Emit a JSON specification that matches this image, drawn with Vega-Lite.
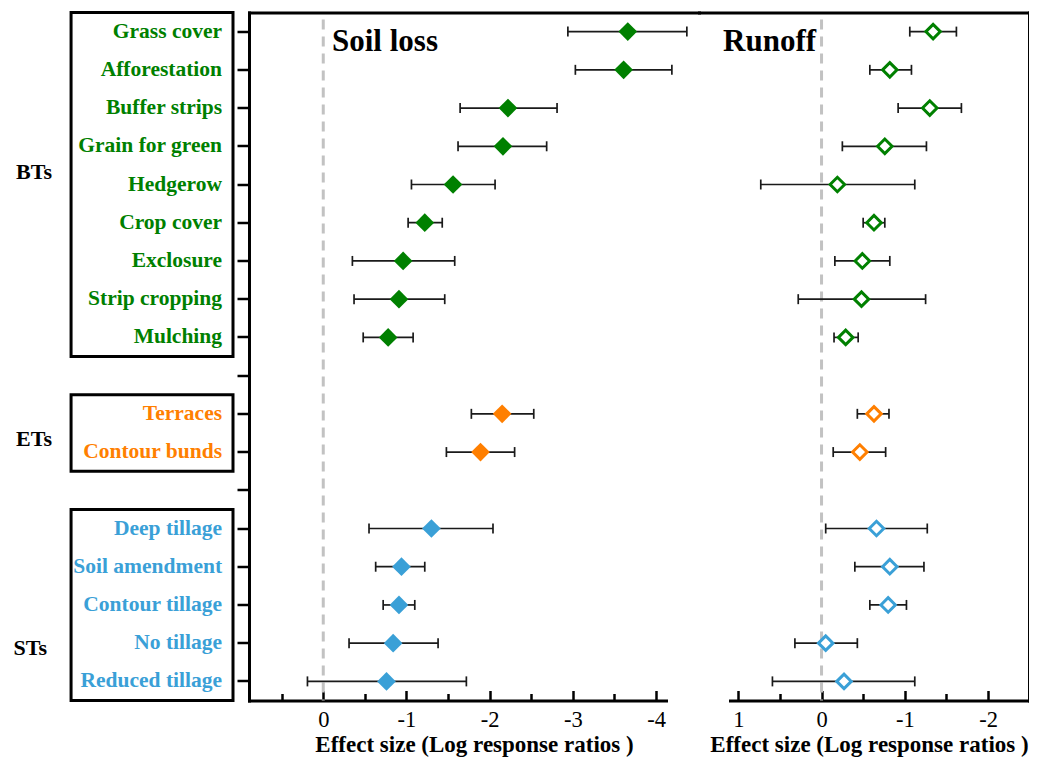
{
  "$schema": "https://vega.github.io/schema/vega-lite/v6.json",
  "background": "white",
  "padding": {"left": 0, "top": 10.5, "right": 0, "bottom": 0},
  "spacing": 0,
  "config": {
    "font": "Liberation Serif",
    "view": {"stroke": null},
    "axis": {
      "grid": false,
      "domainColor": "black",
      "tickColor": "black",
      "labelColor": "black",
      "titleColor": "black",
      "labelFont": "Liberation Serif",
      "titleFont": "Liberation Serif",
      "labelFlush": false,
      "labelOverlap": false,
      "domainCap": "square"
    }
  },
  "datasets": {
    "effects": [
      {"treatment": "Grass cover", "group": "BTs", "response": "Soil loss", "mean": -3.66, "upper": -2.94, "lower": -4.37},
      {"treatment": "Afforestation", "group": "BTs", "response": "Soil loss", "mean": -3.61, "upper": -3.03, "lower": -4.19},
      {"treatment": "Buffer strips", "group": "BTs", "response": "Soil loss", "mean": -2.22, "upper": -1.645, "lower": -2.81},
      {"treatment": "Grain for green", "group": "BTs", "response": "Soil loss", "mean": -2.16, "upper": -1.62, "lower": -2.685},
      {"treatment": "Hedgerow", "group": "BTs", "response": "Soil loss", "mean": -1.56, "upper": -1.06, "lower": -2.065},
      {"treatment": "Crop cover", "group": "BTs", "response": "Soil loss", "mean": -1.22, "upper": -1.02, "lower": -1.43},
      {"treatment": "Exclosure", "group": "BTs", "response": "Soil loss", "mean": -0.96, "upper": -0.35, "lower": -1.58},
      {"treatment": "Strip cropping", "group": "BTs", "response": "Soil loss", "mean": -0.91, "upper": -0.37, "lower": -1.46},
      {"treatment": "Mulching", "group": "BTs", "response": "Soil loss", "mean": -0.78, "upper": -0.48, "lower": -1.08},
      {"treatment": "Terraces", "group": "ETs", "response": "Soil loss", "mean": -2.15, "upper": -1.78, "lower": -2.53},
      {"treatment": "Contour bunds", "group": "ETs", "response": "Soil loss", "mean": -1.89, "upper": -1.48, "lower": -2.3},
      {"treatment": "Deep tillage", "group": "STs", "response": "Soil loss", "mean": -1.3, "upper": -0.55, "lower": -2.04},
      {"treatment": "Soil amendment", "group": "STs", "response": "Soil loss", "mean": -0.94, "upper": -0.63, "lower": -1.22},
      {"treatment": "Contour tillage", "group": "STs", "response": "Soil loss", "mean": -0.91, "upper": -0.72, "lower": -1.1},
      {"treatment": "No tillage", "group": "STs", "response": "Soil loss", "mean": -0.84, "upper": -0.31, "lower": -1.38},
      {"treatment": "Reduced tillage", "group": "STs", "response": "Soil loss", "mean": -0.76, "upper": 0.19, "lower": -1.72},
      {"treatment": "Grass cover", "group": "BTs", "response": "Runoff", "mean": -1.34, "upper": -1.06, "lower": -1.62},
      {"treatment": "Afforestation", "group": "BTs", "response": "Runoff", "mean": -0.82, "upper": -0.58, "lower": -1.08},
      {"treatment": "Buffer strips", "group": "BTs", "response": "Runoff", "mean": -1.3, "upper": -0.92, "lower": -1.68},
      {"treatment": "Grain for green", "group": "BTs", "response": "Runoff", "mean": -0.76, "upper": -0.25, "lower": -1.26},
      {"treatment": "Hedgerow", "group": "BTs", "response": "Runoff", "mean": -0.19, "upper": 0.73, "lower": -1.12},
      {"treatment": "Crop cover", "group": "BTs", "response": "Runoff", "mean": -0.63, "upper": -0.5, "lower": -0.76},
      {"treatment": "Exclosure", "group": "BTs", "response": "Runoff", "mean": -0.49, "upper": -0.16, "lower": -0.82},
      {"treatment": "Strip cropping", "group": "BTs", "response": "Runoff", "mean": -0.48, "upper": 0.28, "lower": -1.25},
      {"treatment": "Mulching", "group": "BTs", "response": "Runoff", "mean": -0.29, "upper": -0.15, "lower": -0.44},
      {"treatment": "Terraces", "group": "ETs", "response": "Runoff", "mean": -0.63, "upper": -0.43, "lower": -0.81},
      {"treatment": "Contour bunds", "group": "ETs", "response": "Runoff", "mean": -0.46, "upper": -0.14, "lower": -0.77},
      {"treatment": "Deep tillage", "group": "STs", "response": "Runoff", "mean": -0.66, "upper": -0.05, "lower": -1.27},
      {"treatment": "Soil amendment", "group": "STs", "response": "Runoff", "mean": -0.82, "upper": -0.4, "lower": -1.23},
      {"treatment": "Contour tillage", "group": "STs", "response": "Runoff", "mean": -0.8, "upper": -0.58, "lower": -1.02},
      {"treatment": "No tillage", "group": "STs", "response": "Runoff", "mean": -0.05, "upper": 0.32, "lower": -0.43},
      {"treatment": "Reduced tillage", "group": "STs", "response": "Runoff", "mean": -0.27, "upper": 0.59, "lower": -1.12}
    ],
    "groups": [
      {"group": "BTs", "first": "Grass cover", "last": "Mulching", "anchor": "Hedgerow"},
      {"group": "ETs", "first": "Terraces", "last": "Contour bunds", "anchor": "Contour bunds"},
      {"group": "STs", "first": "Deep tillage", "last": "Reduced tillage", "anchor": "No tillage"}
    ],
    "zero": [{"ref": 0}],
    "panels": [{"panel": "Soil loss"}, {"panel": "Runoff"}]
  },
  "hconcat": [
    {
      "width": 233,
      "height": 688,
      "layer": [
        {
          "data": {"name": "groups"},
          "mark": {"type": "rect", "filled": false, "stroke": "black", "strokeWidth": 3},
          "encoding": {
            "x": {"datum": 0.305, "type": "quantitative", "scale": {"domain": [0, 1], "nice": false, "zero": false}, "axis": null},
            "x2": {"datum": 1},
            "y": {"field": "first", "type": "nominal", "bandPosition": 0, "scale": {"type": "band", "paddingInner": 0, "paddingOuter": 0, "domain": ["Grass cover","Afforestation","Buffer strips","Grain for green","Hedgerow","Crop cover","Exclosure","Strip cropping","Mulching"," ","Terraces","Contour bunds","  ","Deep tillage","Soil amendment","Contour tillage","No tillage","Reduced tillage"]}, "axis": null},
            "y2": {"field": "last", "bandPosition": 1}
          }
        },
        {
          "data": {"name": "effects"},
          "transform": [{"filter": "datum.response === 'Soil loss'"}],
          "mark": {"type": "text", "align": "right", "baseline": "middle", "font": "Liberation Serif", "fontSize": 21.5, "fontWeight": "bold"},
          "encoding": {
            "x": {"datum": 0.953, "type": "quantitative", "scale": {"domain": [0, 1], "nice": false, "zero": false}, "axis": null},
            "y": {"field": "treatment", "type": "nominal", "scale": {"type": "band", "paddingInner": 0, "paddingOuter": 0, "domain": ["Grass cover","Afforestation","Buffer strips","Grain for green","Hedgerow","Crop cover","Exclosure","Strip cropping","Mulching"," ","Terraces","Contour bunds","  ","Deep tillage","Soil amendment","Contour tillage","No tillage","Reduced tillage"]}, "axis": null},
            "text": {"field": "treatment"},
            "color": {"field": "group", "type": "nominal", "scale": {"domain": ["BTs", "ETs", "STs"], "range": ["#008000", "#ff7f00", "#3aa0d7"]}, "legend": null}
          }
        },
        {
          "data": {"name": "groups"},
          "transform": [{"filter": "datum.group !== 'STs'"}],
          "mark": {"type": "text", "align": "center", "baseline": "middle", "font": "Liberation Serif", "fontSize": 22, "fontWeight": "bold", "color": "black"},
          "encoding": {
            "x": {"datum": 0.146, "type": "quantitative", "scale": {"domain": [0, 1], "nice": false, "zero": false}, "axis": null},
            "y": {"field": "anchor", "type": "nominal", "bandPosition": 0.17, "scale": {"type": "band", "paddingInner": 0, "paddingOuter": 0, "domain": ["Grass cover","Afforestation","Buffer strips","Grain for green","Hedgerow","Crop cover","Exclosure","Strip cropping","Mulching"," ","Terraces","Contour bunds","  ","Deep tillage","Soil amendment","Contour tillage","No tillage","Reduced tillage"]}, "axis": null},
            "text": {"field": "group"}
          }
        },
        {
          "data": {"name": "groups"},
          "transform": [{"filter": "datum.group === 'STs'"}],
          "mark": {"type": "text", "align": "center", "baseline": "middle", "font": "Liberation Serif", "fontSize": 22, "fontWeight": "bold", "color": "black"},
          "encoding": {
            "x": {"datum": 0.13, "type": "quantitative", "scale": {"domain": [0, 1], "nice": false, "zero": false}, "axis": null},
            "y": {"field": "anchor", "type": "nominal", "bandPosition": 0.62, "scale": {"type": "band", "paddingInner": 0, "paddingOuter": 0, "domain": ["Grass cover","Afforestation","Buffer strips","Grain for green","Hedgerow","Crop cover","Exclosure","Strip cropping","Mulching"," ","Terraces","Contour bunds","  ","Deep tillage","Soil amendment","Contour tillage","No tillage","Reduced tillage"]}, "axis": null},
            "text": {"field": "group"}
          }
        }
      ]
    },
    {
      "width": 450,
      "height": 688,
      "layer": [
        {
          "data": {"name": "zero"},
          "mark": {"type": "rule", "stroke": "#c2c2c2", "strokeWidth": 3, "strokeDash": [10, 7], "strokeDashOffset": 10},
          "encoding": {
            "x": {"field": "ref", "type": "quantitative", "scale": {"domain": [0.8925, -4.516], "nice": false, "zero": false},
                  "axis": {"orient": "top", "ticks": false, "labels": false, "domain": true, "domainWidth": 3, "title": null}}
          }
        },
        {
          "data": {"name": "effects"},
          "transform": [{"filter": "datum.response === 'Soil loss'"}],
          "mark": {"type": "rule", "stroke": "#1a1a1a", "strokeWidth": 1.7},
          "encoding": {
            "x": {"field": "upper", "type": "quantitative", "scale": {"domain": [0.8925, -4.516], "nice": false, "zero": false},
                  "axis": {"orient": "bottom", "values": [0, -1, -2, -3, -4], "labelExpr": "datum.value < 0 ? '-' + abs(datum.value) : '' + datum.value", "tickSize": -10, "tickWidth": 2.5, "domainWidth": 3, "domainDash": [417, 2000], "labelFontSize": 22.5, "labelPadding": 18, "title": "Effect size (Log response ratios )", "titleFontSize": 23, "titleFontWeight": "bold", "titlePadding": 2}},
            "x2": {"field": "lower"},
            "y": {"field": "treatment", "type": "nominal", "scale": {"type": "band", "paddingInner": 0, "paddingOuter": 0, "domain": ["Grass cover","Afforestation","Buffer strips","Grain for green","Hedgerow","Crop cover","Exclosure","Strip cropping","Mulching"," ","Terraces","Contour bunds","  ","Deep tillage","Soil amendment","Contour tillage","No tillage","Reduced tillage"]},
                  "axis": {"orient": "left", "labels": false, "ticks": true, "tickSize": 12, "tickWidth": 2.5, "domainWidth": 3, "title": null}}
          }
        },
        {
          "data": {"name": "effects"},
          "transform": [{"filter": "datum.response === 'Soil loss'"}],
          "mark": {"type": "tick", "color": "#1a1a1a", "size": 10, "thickness": 1.7, "opacity": 1},
          "encoding": {
            "x": {"field": "upper", "type": "quantitative", "scale": {"domain": [0.8925, -4.516], "nice": false, "zero": false},
                  "axis": {"orient": "bottom", "values": [0.5, -0.5, -1.5, -2.5, -3.5], "tickSize": -7, "tickWidth": 2.5, "labels": false, "domain": false, "title": null}},
            "y": {"field": "treatment", "type": "nominal", "scale": {"type": "band", "paddingInner": 0, "paddingOuter": 0, "domain": ["Grass cover","Afforestation","Buffer strips","Grain for green","Hedgerow","Crop cover","Exclosure","Strip cropping","Mulching"," ","Terraces","Contour bunds","  ","Deep tillage","Soil amendment","Contour tillage","No tillage","Reduced tillage"]}}
          }
        },
        {
          "data": {"name": "effects"},
          "transform": [{"filter": "datum.response === 'Soil loss'"}],
          "mark": {"type": "tick", "color": "#1a1a1a", "size": 10, "thickness": 1.7, "opacity": 1},
          "encoding": {
            "x": {"field": "lower", "type": "quantitative", "scale": {"domain": [0.8925, -4.516], "nice": false, "zero": false}, "axis": null},
            "y": {"field": "treatment", "type": "nominal", "scale": {"type": "band", "paddingInner": 0, "paddingOuter": 0, "domain": ["Grass cover","Afforestation","Buffer strips","Grain for green","Hedgerow","Crop cover","Exclosure","Strip cropping","Mulching"," ","Terraces","Contour bunds","  ","Deep tillage","Soil amendment","Contour tillage","No tillage","Reduced tillage"]}}
          }
        },
        {
          "data": {"name": "effects"},
          "transform": [{"filter": "datum.response === 'Soil loss'"}],
          "mark": {"type": "point", "shape": "diamond", "filled": true, "size": 350, "opacity": 1},
          "encoding": {
            "x": {"field": "mean", "type": "quantitative", "scale": {"domain": [0.8925, -4.516], "nice": false, "zero": false}, "axis": null},
            "y": {"field": "treatment", "type": "nominal", "scale": {"type": "band", "paddingInner": 0, "paddingOuter": 0, "domain": ["Grass cover","Afforestation","Buffer strips","Grain for green","Hedgerow","Crop cover","Exclosure","Strip cropping","Mulching"," ","Terraces","Contour bunds","  ","Deep tillage","Soil amendment","Contour tillage","No tillage","Reduced tillage"]}},
            "color": {"field": "group", "type": "nominal", "scale": {"domain": ["BTs", "ETs", "STs"], "range": ["#008000", "#ff7f00", "#3aa0d7"]}, "legend": null}
          }
        },
        {
          "data": {"name": "panels"},
          "transform": [{"filter": "datum.panel === 'Soil loss'"}],
          "mark": {"type": "text", "align": "left", "baseline": "alphabetic", "font": "Liberation Serif", "fontSize": 31, "fontWeight": "bold", "color": "black"},
          "encoding": {
            "x": {"datum": -0.105, "type": "quantitative", "scale": {"domain": [0.8925, -4.516], "nice": false, "zero": false}, "axis": null},
            "y": {"datum": "Grass cover", "type": "nominal", "bandPosition": 1, "scale": {"type": "band", "paddingInner": 0, "paddingOuter": 0, "domain": ["Grass cover","Afforestation","Buffer strips","Grain for green","Hedgerow","Crop cover","Exclosure","Strip cropping","Mulching"," ","Terraces","Contour bunds","  ","Deep tillage","Soil amendment","Contour tillage","No tillage","Reduced tillage"]}},
            "text": {"field": "panel"}
          }
        }
      ],
      "resolve": {"axis": {"x": "independent"}}
    },
    {
      "width": 330,
      "height": 688,
      "layer": [
        {
          "data": {"name": "zero"},
          "mark": {"type": "rule", "stroke": "#c2c2c2", "strokeWidth": 3, "strokeDash": [10, 7], "strokeDashOffset": 10},
          "encoding": {
            "x": {"field": "ref", "type": "quantitative", "scale": {"domain": [1.472, -2.492], "nice": false, "zero": false},
                  "axis": {"orient": "top", "ticks": false, "labels": false, "domain": true, "domainWidth": 3, "title": null}}
          }
        },
        {
          "data": {"name": "effects"},
          "transform": [{"filter": "datum.response === 'Runoff'"}],
          "mark": {"type": "rule", "stroke": "#1a1a1a", "strokeWidth": 1.7},
          "encoding": {
            "x": {"field": "upper", "type": "quantitative", "scale": {"domain": [1.472, -2.492], "nice": false, "zero": false},
                  "axis": {"orient": "bottom", "values": [1, 0, -1, -2], "labelExpr": "datum.value < 0 ? '-' + abs(datum.value) : '' + datum.value", "tickSize": -10, "tickWidth": 2.5, "domainWidth": 3, "domainDash": [299, 31], "domainDashOffset": 299, "labelFontSize": 22.5, "labelPadding": 18, "title": "Effect size (Log response ratios )", "titleFontSize": 23, "titleFontWeight": "bold", "titlePadding": 2, "titleX": 170}},
            "x2": {"field": "lower"},
            "y": {"field": "treatment", "type": "nominal", "scale": {"type": "band", "paddingInner": 0, "paddingOuter": 0, "domain": ["Grass cover","Afforestation","Buffer strips","Grain for green","Hedgerow","Crop cover","Exclosure","Strip cropping","Mulching"," ","Terraces","Contour bunds","  ","Deep tillage","Soil amendment","Contour tillage","No tillage","Reduced tillage"]},
                  "axis": {"orient": "right", "labels": false, "ticks": false, "domainWidth": 3, "title": null}}
          }
        },
        {
          "data": {"name": "effects"},
          "transform": [{"filter": "datum.response === 'Runoff'"}],
          "mark": {"type": "tick", "color": "#1a1a1a", "size": 10, "thickness": 1.7, "opacity": 1},
          "encoding": {
            "x": {"field": "upper", "type": "quantitative", "scale": {"domain": [1.472, -2.492], "nice": false, "zero": false},
                  "axis": {"orient": "bottom", "values": [0.5, -0.5, -1.5], "tickSize": -7, "tickWidth": 2.5, "labels": false, "domain": false, "title": null}},
            "y": {"field": "treatment", "type": "nominal", "scale": {"type": "band", "paddingInner": 0, "paddingOuter": 0, "domain": ["Grass cover","Afforestation","Buffer strips","Grain for green","Hedgerow","Crop cover","Exclosure","Strip cropping","Mulching"," ","Terraces","Contour bunds","  ","Deep tillage","Soil amendment","Contour tillage","No tillage","Reduced tillage"]}}
          }
        },
        {
          "data": {"name": "effects"},
          "transform": [{"filter": "datum.response === 'Runoff'"}],
          "mark": {"type": "tick", "color": "#1a1a1a", "size": 10, "thickness": 1.7, "opacity": 1},
          "encoding": {
            "x": {"field": "lower", "type": "quantitative", "scale": {"domain": [1.472, -2.492], "nice": false, "zero": false}, "axis": null},
            "y": {"field": "treatment", "type": "nominal", "scale": {"type": "band", "paddingInner": 0, "paddingOuter": 0, "domain": ["Grass cover","Afforestation","Buffer strips","Grain for green","Hedgerow","Crop cover","Exclosure","Strip cropping","Mulching"," ","Terraces","Contour bunds","  ","Deep tillage","Soil amendment","Contour tillage","No tillage","Reduced tillage"]}}
          }
        },
        {
          "data": {"name": "effects"},
          "transform": [{"filter": "datum.response === 'Runoff'"}],
          "mark": {"type": "point", "shape": "diamond", "filled": false, "fill": "white", "strokeWidth": 3, "size": 210, "opacity": 1},
          "encoding": {
            "x": {"field": "mean", "type": "quantitative", "scale": {"domain": [1.472, -2.492], "nice": false, "zero": false}, "axis": null},
            "y": {"field": "treatment", "type": "nominal", "scale": {"type": "band", "paddingInner": 0, "paddingOuter": 0, "domain": ["Grass cover","Afforestation","Buffer strips","Grain for green","Hedgerow","Crop cover","Exclosure","Strip cropping","Mulching"," ","Terraces","Contour bunds","  ","Deep tillage","Soil amendment","Contour tillage","No tillage","Reduced tillage"]}},
            "color": {"field": "group", "type": "nominal", "scale": {"domain": ["BTs", "ETs", "STs"], "range": ["#008000", "#ff7f00", "#3aa0d7"]}, "legend": null}
          }
        },
        {
          "data": {"name": "panels"},
          "transform": [{"filter": "datum.panel === 'Runoff'"}],
          "mark": {"type": "text", "align": "right", "baseline": "alphabetic", "font": "Liberation Serif", "fontSize": 31, "fontWeight": "bold", "color": "black"},
          "encoding": {
            "x": {"datum": 0.065, "type": "quantitative", "scale": {"domain": [1.472, -2.492], "nice": false, "zero": false}, "axis": null},
            "y": {"datum": "Grass cover", "type": "nominal", "bandPosition": 1, "scale": {"type": "band", "paddingInner": 0, "paddingOuter": 0, "domain": ["Grass cover","Afforestation","Buffer strips","Grain for green","Hedgerow","Crop cover","Exclosure","Strip cropping","Mulching"," ","Terraces","Contour bunds","  ","Deep tillage","Soil amendment","Contour tillage","No tillage","Reduced tillage"]}},
            "text": {"field": "panel"}
          }
        }
      ],
      "resolve": {"axis": {"x": "independent"}}
    }
  ]
}
